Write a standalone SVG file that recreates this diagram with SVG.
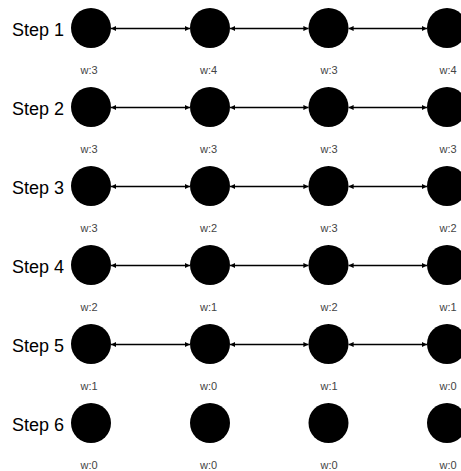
<svg xmlns="http://www.w3.org/2000/svg" width="461" height="471" viewBox="0 0 461 471">
<style>
.step{font-family:"Liberation Sans",Arial,sans-serif;font-size:18px;fill:#000}
.w{font-family:"Liberation Sans",Arial,sans-serif;font-size:11px;fill:#444;text-anchor:middle}
.n{fill:#000}
.e{stroke:#000;stroke-width:1.6;fill:none;marker-start:url(#a);marker-end:url(#a)}
</style>
<defs>
<marker id="a" viewBox="0 0 10 10" refX="10" refY="5" markerWidth="3.2" markerHeight="3.2" orient="auto-start-reverse">
<path d="M0,0L10,5L0,10z" fill="#000"/>
</marker>
</defs>
<rect width="461" height="471" fill="#fff"/>
<g id="connectors">
<line class="e" x1="111" y1="28.5" x2="190" y2="28.5"/>
<line class="e" x1="230" y1="28.5" x2="308.5" y2="28.5"/>
<line class="e" x1="348.5" y1="28.5" x2="427" y2="28.5"/>
<line class="e" x1="111" y1="107.5" x2="190" y2="107.5"/>
<line class="e" x1="230" y1="107.5" x2="308.5" y2="107.5"/>
<line class="e" x1="348.5" y1="107.5" x2="427" y2="107.5"/>
<line class="e" x1="111" y1="186.5" x2="190" y2="186.5"/>
<line class="e" x1="230" y1="186.5" x2="308.5" y2="186.5"/>
<line class="e" x1="348.5" y1="186.5" x2="427" y2="186.5"/>
<line class="e" x1="111" y1="265.5" x2="190" y2="265.5"/>
<line class="e" x1="230" y1="265.5" x2="308.5" y2="265.5"/>
<line class="e" x1="348.5" y1="265.5" x2="427" y2="265.5"/>
<line class="e" x1="111" y1="344.5" x2="190" y2="344.5"/>
<line class="e" x1="230" y1="344.5" x2="308.5" y2="344.5"/>
<line class="e" x1="348.5" y1="344.5" x2="427" y2="344.5"/>
</g>
<g id="labels">
<text class="step" x="12" y="35.5">Step 1</text>
<text class="step" x="12" y="114.5">Step 2</text>
<text class="step" x="12" y="193.5">Step 3</text>
<text class="step" x="12" y="272.5">Step 4</text>
<text class="step" x="12" y="351.5">Step 5</text>
<text class="step" x="12" y="430.5">Step 6</text>
</g>
<g id="r1n1"><circle class="n" cx="91" cy="28" r="20"/><text class="w" x="89" y="73.5">w:3</text></g>
<g id="r1n2"><circle class="n" cx="210" cy="28" r="20"/><text class="w" x="208.5" y="73.5">w:4</text></g>
<g id="r1n3"><circle class="n" cx="328.5" cy="28" r="20"/><text class="w" x="329" y="73.5">w:3</text></g>
<g id="r1n4"><circle class="n" cx="447" cy="28" r="20"/><text class="w" x="448" y="73.5">w:4</text></g>
<g id="r2n1"><circle class="n" cx="91" cy="107" r="20"/><text class="w" x="89" y="152.5">w:3</text></g>
<g id="r2n2"><circle class="n" cx="210" cy="107" r="20"/><text class="w" x="208.5" y="152.5">w:3</text></g>
<g id="r2n3"><circle class="n" cx="328.5" cy="107" r="20"/><text class="w" x="329" y="152.5">w:3</text></g>
<g id="r2n4"><circle class="n" cx="447" cy="107" r="20"/><text class="w" x="448" y="152.5">w:3</text></g>
<g id="r3n1"><circle class="n" cx="91" cy="186" r="20"/><text class="w" x="89" y="231.5">w:3</text></g>
<g id="r3n2"><circle class="n" cx="210" cy="186" r="20"/><text class="w" x="208.5" y="231.5">w:2</text></g>
<g id="r3n3"><circle class="n" cx="328.5" cy="186" r="20"/><text class="w" x="329" y="231.5">w:3</text></g>
<g id="r3n4"><circle class="n" cx="447" cy="186" r="20"/><text class="w" x="448" y="231.5">w:2</text></g>
<g id="r4n1"><circle class="n" cx="91" cy="265" r="20"/><text class="w" x="89" y="310.5">w:2</text></g>
<g id="r4n2"><circle class="n" cx="210" cy="265" r="20"/><text class="w" x="208.5" y="310.5">w:1</text></g>
<g id="r4n3"><circle class="n" cx="328.5" cy="265" r="20"/><text class="w" x="329" y="310.5">w:2</text></g>
<g id="r4n4"><circle class="n" cx="447" cy="265" r="20"/><text class="w" x="448" y="310.5">w:1</text></g>
<g id="r5n1"><circle class="n" cx="91" cy="344" r="20"/><text class="w" x="89" y="389.5">w:1</text></g>
<g id="r5n2"><circle class="n" cx="210" cy="344" r="20"/><text class="w" x="208.5" y="389.5">w:0</text></g>
<g id="r5n3"><circle class="n" cx="328.5" cy="344" r="20"/><text class="w" x="329" y="389.5">w:1</text></g>
<g id="r5n4"><circle class="n" cx="447" cy="344" r="20"/><text class="w" x="448" y="389.5">w:0</text></g>
<g id="r6n1"><circle class="n" cx="91" cy="423" r="20"/><text class="w" x="89" y="468.5">w:0</text></g>
<g id="r6n2"><circle class="n" cx="210" cy="423" r="20"/><text class="w" x="208.5" y="468.5">w:0</text></g>
<g id="r6n3"><circle class="n" cx="328.5" cy="423" r="20"/><text class="w" x="329" y="468.5">w:0</text></g>
<g id="r6n4"><circle class="n" cx="447" cy="423" r="20"/><text class="w" x="448" y="468.5">w:0</text></g>
</svg>
